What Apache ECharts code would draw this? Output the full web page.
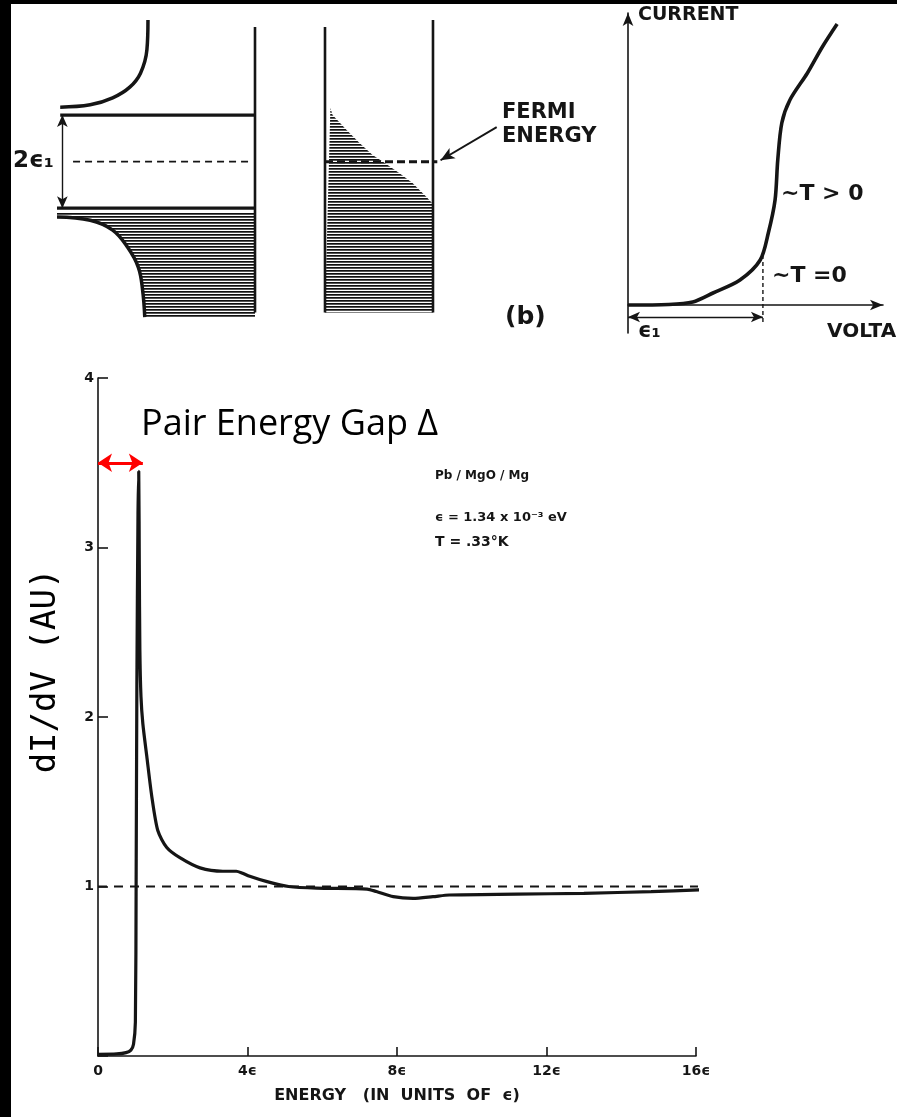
<!DOCTYPE html>
<html>
<head>
<meta charset="utf-8">
<script src="https://cdn.jsdelivr.net/npm/echarts@6/dist/echarts.min.js"></script>
<style>
html,body{margin:0;padding:0;background:#fff;}
#c{width:897px;height:1117px;}
</style>
</head>
<body>
<div id="c"></div>
<script>
// ---------- main chart data: dI/dV vs energy (units of epsilon) ----------
const energy = [0, 0.5, 0.75, 0.88, 0.95, 1.0, 1.02, 1.04, 1.07, 1.09, 1.105, 1.12, 1.15, 1.2, 1.31, 1.44, 1.6, 1.84, 2.19, 2.73, 3.34, 3.7, 3.85, 4.06, 4.5, 5.1, 5.85, 7.2, 7.45, 7.9, 8.43, 8.96, 9.4, 11.2, 13.0, 14.8, 16.1];
const dIdV   = [0.01, 0.012, 0.02, 0.035, 0.07, 0.2, 1.0, 2.2, 3.2, 3.45, 2.9, 2.4, 2.12, 1.96, 1.76, 1.53, 1.33, 1.23, 1.17, 1.11, 1.09, 1.09, 1.08, 1.06, 1.03, 1.0, 0.99, 0.985, 0.97, 0.94, 0.93, 0.94, 0.95, 0.955, 0.96, 0.97, 0.98];
const normalLevel = [1, 1];
const normalLevelX = [0, 16.1];
const xTickValues = [0, 4, 8, 12, 16];
const xTickLabels = ['0', '4ϵ', '8ϵ', '12ϵ', '16ϵ'];
const yTickLabels = ['', '1', '2', '3', '4'];
const gapArrowX = [0, 1.2];
const gapArrowY = 3.5;

// ---------- top-left: superconductor density of states (density, energy) ----------
const bcsUpperDensity = [1.00, 1.01, 1.07, 1.17, 1.33, 1.54, 1.82];
const bcsUpperEnergy  = [3.04, 2.40, 1.90, 1.60, 1.37, 1.22, 1.17];
const bcsLowerDensity = [1.85, 1.54, 1.33, 1.19, 1.09, 1.05, 1.03];
const bcsLowerEnergy  = [-1.19, -1.26, -1.47, -1.84, -2.27, -2.76, -3.34];
const gapEdges = [1, -1];

// ---------- top-middle: normal metal occupied states ----------
const fermiOccupation = [0.05, 0.07, 0.20, 0.32, 0.44, 0.54, 0.69, 0.81, 0.94, 0.99, 1.0, 1.0];
const fermiEnergy     = [1.15, 1.0, 0.68, 0.40, 0.14, -0.01, -0.25, -0.46, -0.76, -0.89, -1.04, -3.24];

// ---------- top-right: I-V curve ----------
const ivVoltage = [0, 0.3, 0.48, 0.63, 0.83, 0.98, 1.04, 1.09, 1.11, 1.14, 1.2, 1.33, 1.44, 1.55];
const ivCurrent = [0, 0.005, 0.03, 0.12, 0.25, 0.45, 0.72, 1.05, 1.45, 1.82, 2.05, 2.32, 2.58, 2.81];

const zip = (a, b) => a.map((v, i) => [v, b[i]]);

function hatchPattern() {
  const c = document.createElement('canvas');
  c.width = 6; c.height = 3;
  const g = c.getContext('2d');
  g.fillStyle = '#ffffff'; g.fillRect(0, 0, 6, 3);
  g.fillStyle = '#111111'; g.fillRect(0, 0, 6, 1);
  g.fillStyle = '#555555'; g.fillRect(0, 1, 6, 1);
  return c;
}
const pat = { image: hatchPattern(), repeat: 'repeat' };

const INK = '#151515';
const SCAN_FONT = '"DejaVu Sans",sans-serif';

function polySeries(points, xi, yi) {
  return {
    type: 'custom', xAxisIndex: xi, yAxisIndex: yi, clip: false, silent: true, z: 1,
    data: points,
    renderItem: function (params, api) {
      if (params.dataIndex !== 0) return null;
      const pts = points.map(p => api.coord(p));
      return { type: 'polygon', shape: { points: pts }, style: { fill: pat, stroke: null } };
    }
  };
}
function lineSeries(data, xi, yi, width, extra) {
  return Object.assign({
    type: 'line', xAxisIndex: xi, yAxisIndex: yi, data: data, symbol: 'none',
    clip: false, silent: true, z: 3,
    lineStyle: { color: INK, width: width }
  }, extra || {});
}
function text(t, x, y, size, weight) {
  return {
    type: 'text', x: x, y: y, silent: true, z: 100,
    style: { text: t, font: (weight || 'bold') + ' ' + size + 'px ' + SCAN_FONT, fill: INK, textVerticalAlign: 'top' }
  };
}

const hiddenAxis = (grid, min, max, inverse) => ({ type: 'value', gridIndex: grid, min: min, max: max, inverse: !!inverse, show: false, splitLine: { show: false } });

// polygons for hatching
const bcsHatch = zip(bcsLowerDensity, bcsLowerEnergy).concat([[0, -3.34], [0, -1.1], [1.85, -1.1]]);
const fermiHatch = zip(fermiOccupation, fermiEnergy).concat([[0, -3.24]]);

const chart = echarts.init(document.getElementById('c'), null, { renderer: 'canvas' });
const option = {
  animation: false,
  backgroundColor: '#ffffff',
  grid: [
    { left: 98, top: 378, width: 598, height: 678 },
    { left: 57, top: 14, width: 198, height: 306 },
    { left: 325, top: 14, width: 200, height: 306 },
    { left: 628, top: 13, width: 255, height: 320 }
  ],
  xAxis: [
    {
      type: 'value', gridIndex: 0, min: 0, max: 16, interval: 4,
      axisLine: { lineStyle: { color: INK, width: 1.6 } },
      axisTick: { inside: true, length: 9, lineStyle: { color: INK, width: 1.6 } },
      splitLine: { show: false },
      axisLabel: { color: INK, fontWeight: 'bold', fontSize: 14, fontFamily: SCAN_FONT, margin: 8,
        formatter: v => xTickLabels[xTickValues.indexOf(v)] },
      name: 'ENERGY   (IN  UNITS  OF  ϵ)', nameLocation: 'middle', nameGap: 32,
      nameTextStyle: { color: INK, fontWeight: 'bold', fontSize: 16, fontFamily: SCAN_FONT }
    },
    hiddenAxis(1, 0, 1.85, true),
    hiddenAxis(2, 0, 1.852, false),
    {
      type: 'value', gridIndex: 3, min: 0, max: 1.89,
      axisLine: { onZero: true, symbol: ['none', 'arrow'], symbolSize: [8, 13], lineStyle: { color: INK, width: 1.6 } },
      axisTick: { show: false }, axisLabel: { show: false }, splitLine: { show: false }
    }
  ],
  yAxis: [
    {
      type: 'value', gridIndex: 0, min: 0, max: 4, interval: 1,
      axisLine: { lineStyle: { color: INK, width: 1.6 } },
      axisTick: { inside: true, length: 10, lineStyle: { color: INK, width: 1.6 } },
      splitLine: { show: false },
      axisLabel: { color: INK, fontWeight: 'bold', fontSize: 14, fontFamily: SCAN_FONT, margin: 4,
        formatter: v => yTickLabels[v] }
    },
    hiddenAxis(1, -3.4, 3.17),
    hiddenAxis(2, -3.4, 3.17),
    {
      type: 'value', gridIndex: 3, min: -0.28, max: 2.92,
      axisLine: { onZero: true, symbol: ['none', 'arrow'], symbolSize: [8, 13], lineStyle: { color: INK, width: 1.6 } },
      axisTick: { show: false }, axisLabel: { show: false }, splitLine: { show: false }
    }
  ],
  series: [
    // ---- main chart ----
    lineSeries(zip(energy, dIdV), 0, 0, 3.2, { smooth: 0.25 }),
    lineSeries(zip(normalLevelX, normalLevel), 0, 0, 1.8, {
      lineStyle: { color: INK, width: 1.8, type: [9, 7] }, z: 2,
      markLine: {
        silent: true, symbol: ['arrow', 'arrow'], symbolSize: [14, 14],
        label: { show: false },
        lineStyle: { color: '#ff0000', width: 3, type: 'solid' },
        data: [[{ coord: [gapArrowX[0], gapArrowY] }, { coord: [gapArrowX[1], gapArrowY] }]]
      }
    }),
    // ---- top-left superconductor DOS ----
    polySeries(bcsHatch, 1, 1),
    lineSeries(zip(bcsUpperDensity, bcsUpperEnergy), 1, 1, 3.5, { smooth: 0.4 }),
    lineSeries(zip(bcsLowerDensity, bcsLowerEnergy), 1, 1, 3.5, { smooth: 0.4 }),
    lineSeries([[1.82, gapEdges[0]], [0, gapEdges[0]]], 1, 1, 3.2),
    lineSeries([[1.85, gapEdges[1]], [0, gapEdges[1]]], 1, 1, 3.2, {
      markLine: {
        silent: true, symbol: ['arrow', 'arrow'], symbolSize: [8, 12],
        label: { show: false }, lineStyle: { color: INK, width: 1.4, type: 'solid' },
        data: [[{ coord: [1.8, gapEdges[0]] }, { coord: [1.8, gapEdges[1]] }]]
      }
    }),
    lineSeries([[0, 2.89], [0, -3.24]], 1, 1, 2.6),
    lineSeries([[1.7, 0], [0.05, 0]], 1, 1, 1.8, { lineStyle: { color: INK, width: 1.8, type: [7, 5] } }),
    // ---- top-middle normal metal ----
    polySeries(fermiHatch, 2, 2),
    lineSeries([[0, 2.89], [0, -3.24]], 2, 2, 2.6),
    lineSeries([[1, 3.04], [1, -3.24]], 2, 2, 2.6),
    lineSeries([[0, 0], [1.04, 0]], 2, 2, 3, {
      lineStyle: { color: INK, width: 3, type: [8, 4] },
      markLine: {
        silent: true, symbol: ['none', 'arrow'], symbolSize: [9, 14],
        label: { show: false }, lineStyle: { color: INK, width: 2, type: 'solid' },
        data: [[{ coord: [1.59, 0.74] }, { coord: [1.07, 0.03] }]]
      }
    }),
    // ---- top-right I-V ----
    lineSeries(zip(ivVoltage, ivCurrent), 3, 3, 3.6, { smooth: 0.3 }),
    lineSeries([[1, 0.5], [1, -0.17]], 3, 3, 1.4, {
      lineStyle: { color: INK, width: 1.4, type: [4, 3] },
      markLine: {
        silent: true, symbol: ['arrow', 'arrow'], symbolSize: [8, 12],
        label: { show: false }, lineStyle: { color: INK, width: 1.4, type: 'solid' },
        data: [[{ coord: [0, -0.12] }, { coord: [1, -0.12] }]]
      }
    })
  ],
  graphic: [
    { type: 'rect', shape: { x: 0, y: 0, width: 11, height: 1117 }, style: { fill: '#000' }, z: 200, silent: true },
    { type: 'rect', shape: { x: 0, y: 0, width: 897, height: 4 }, style: { fill: '#000' }, z: 200, silent: true },
    text('2ϵ₁', 13, 150, 23),
    text('FERMI', 502, 102, 21),
    text('ENERGY', 502, 126, 21),
    text('(b)', 505, 305, 25),
    text('CURRENT', 638, 6, 19),
    text('~T > 0', 781, 183, 22),
    text('~T =0', 772, 265, 22),
    text('ϵ₁', 638, 321, 21),
    text('VOLTAGE', 827, 322, 20),
    text('Pb / MgO / Mg', 435, 470, 12),
    text('ϵ = 1.34 x 10⁻³ eV', 435, 511, 13),
    text('T = .33°K', 435, 535, 14),
    { type: 'text', x: 141, y: 407, silent: true, z: 100,
      style: { text: 'Pair Energy Gap Δ', font: '36px "Open Sans", Lato, sans-serif', fill: '#000', textVerticalAlign: 'top' } },
    { type: 'text', x: 46, y: 671, rotation: Math.PI / 2, silent: true, z: 100,
      style: { text: 'dI/dV (AU)', font: '34px "DejaVu Sans Mono", monospace', fill: '#000', textAlign: 'center', textVerticalAlign: 'middle' } }
  ]
};
chart.setOption(option);
</script>
</body>
</html>
